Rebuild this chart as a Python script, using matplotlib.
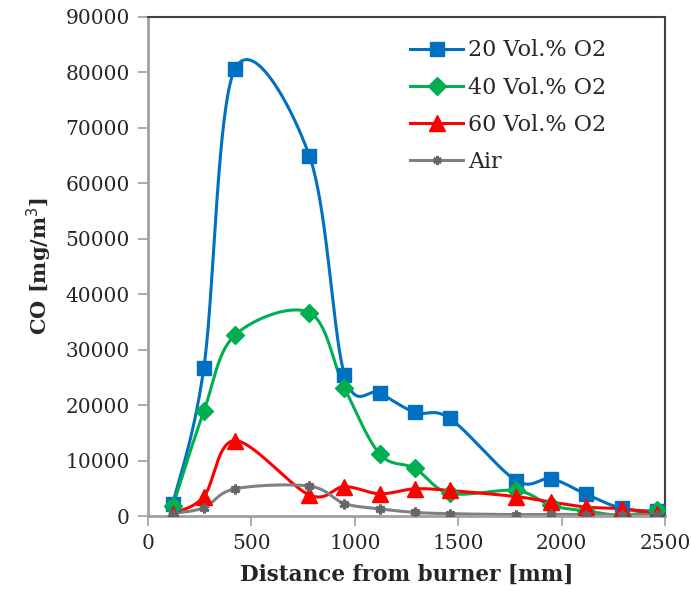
import numpy as np
import matplotlib
matplotlib.use("Agg")
import matplotlib.pyplot as plt
from matplotlib.lines import Line2D

distance = [120, 270, 420, 780, 950, 1120, 1290, 1460, 1780, 1950, 2120, 2290, 2460]
co_20 = [2200, 26700, 80600, 65000, 25500, 22200, 18700, 17600, 6400, 6700, 3900, 1400, 850]
co_40 = [1800, 18900, 32600, 36700, 23100, 11200, 8600, 4100, 4600, 1900, 900, 150, 1000]
co_60 = [450, 3500, 13600, 3800, 5300, 4000, 4900, 4600, 3500, 2500, 1600, 1300, 450]
co_air = [450, 1500, 4900, 5400, 2250, 1300, 650, 420, 250, 300, 250, 250, 150]

labels = ["20 Vol.% O2", "40 Vol.% O2", "60 Vol.% O2", "Air"]
colors = ["#0070C0", "#00B050", "#FF0000", "#808080"]
markers = ["s", "D", "^", (6, 2, 0)]
msizes = [10, 9, 11, 7]


def smooth(x, y, n=40):
    x = np.asarray(x, float)
    y = np.asarray(y, float)
    P = np.column_stack([x, y])
    Pe = np.vstack([P[0], P, P[-1]])
    out = []
    t = np.linspace(0, 1, n)[:, None]
    for i in range(len(P) - 1):
        p0 = Pe[i + 1]
        p3 = Pe[i + 2]
        c1 = p0 + (Pe[i + 2] - Pe[i]) / 6.0
        c2 = p3 - (Pe[i + 3] - Pe[i + 1]) / 6.0
        B = ((1 - t) ** 3) * p0 + 3 * ((1 - t) ** 2) * t * c1 + 3 * (1 - t) * t ** 2 * c2 + t ** 3 * p3
        out.append(B if i == 0 else B[1:])
    B = np.vstack(out)
    return B[:, 0], B[:, 1]


plt.rcParams['font.family'] = ['DejaVu Serif']
fig = plt.figure(figsize=(6.91, 6.07), dpi=100)
ax = fig.add_axes([148 / 691, 1 - 516 / 607, (665 - 148) / 691, (516 - 17) / 607])

series = [co_20, co_40, co_60, co_air]
handles = []
for ys, lab, c, m, ms in zip(series, labels, colors, markers, msizes):
    sx, sy = smooth(distance, ys)
    ax.plot(sx, sy, color=c, lw=2.2, zorder=2, solid_capstyle='round')
    if lab == "Air":
        ax.plot(distance, ys, ls='none', marker=m, ms=ms, mec='#666666', mew=2.2, color='#666666', zorder=3)
    else:
        ax.plot(distance, ys, ls='none', marker=m, ms=ms, color=c, mec=c, zorder=3)
    handles.append(Line2D([], [], color=c, lw=2.2, marker=m, ms=ms if lab != "Air" else 6,
                          mec=('#666666' if lab == "Air" else c), mew=(2 if lab == "Air" else 1),
                          mfc=('#666666' if lab == "Air" else c)))

ax.set_xlim(0, 2500)
ax.set_ylim(0, 90000)
ax.set_xticks(np.arange(0, 2501, 500))
ax.set_yticks(np.arange(0, 90001, 10000))
ax.tick_params(axis='both', direction='out', length=7, width=1.2, color='#A0A0A0',
               labelsize=14.5, labelcolor='#262626', pad=6)
for s in ['left', 'bottom']:
    ax.spines[s].set_color('#A0A0A0')
    ax.spines[s].set_linewidth(2)
for s in ['top', 'right']:
    ax.spines[s].set_color('#404040')
    ax.spines[s].set_linewidth(1.5)

ax.set_xlabel("Distance from burner [mm]", fontsize=15.5, fontweight='bold', color='#262626', labelpad=8)
ax.set_ylabel("CO [mg/m$^3$]", fontsize=15, fontweight='bold', color='#262626', labelpad=8)

leg = ax.legend(handles, labels, loc='upper left', bbox_to_anchor=(0.507, 0.955), frameon=False,
                borderaxespad=0, borderpad=0,
                fontsize=16, handlelength=2.4, handletextpad=0.2, labelspacing=0.68, labelcolor='#262626')

fig.savefig("out.png", dpi=100)
